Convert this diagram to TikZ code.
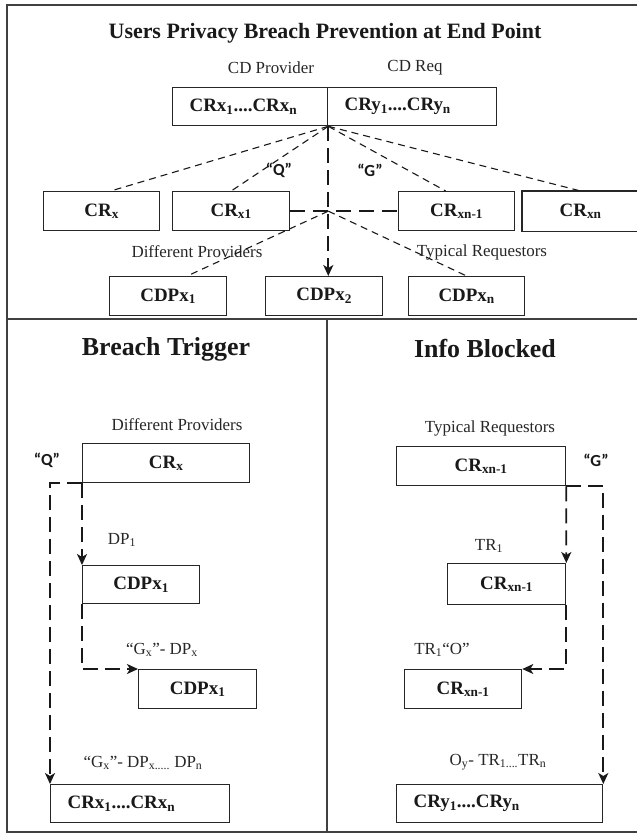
\documentclass[tikz,border=0pt]{standalone}
\usepackage{fontspec}
\setmainfont{Liberation Serif}
\newfontfamily\calib{Carlito}
\usetikzlibrary{arrows.meta}
\newcommand\sbs[1]{\textsubscript{#1}}
\tikzset{
  box/.style={draw=black!85, line width=1.3bp, minimum height=39bp, inner sep=0pt,
    font=\fontsize{19}{21}\selectfont\bfseries, anchor=north west, text=black!90},
  boxl/.style={align=left, inner xsep=17bp},
  boxline/.style={draw=black!85, line width=1.3bp},
  lbl/.style={font=\fontsize{17}{19}\selectfont, inner sep=0pt, text=black!85},
  qlbl/.style={font=\calib\bfseries\fontsize{17}{19}\selectfont, inner sep=0pt, text=black!90},
  fan/.style={line width=1.1bp, draw=black!90, dash pattern=on 7bp off 5bp},
  flow/.style={line width=1.8bp, draw=black!90, dash pattern=on 15bp off 7bp},
  flowthin/.style={line width=1.5bp, draw=black!90, dash pattern=on 15bp off 8bp},
  arr/.style={-{Stealth[length=11bp,width=10bp,inset=3bp]}},
  frame/.style={line width=1.2bp, draw=black!75},
  ttl/.style={font=\fontsize{22}{24}\selectfont\bfseries, inner sep=0pt, text=black!90},
  sttl/.style={font=\fontsize{26}{28}\selectfont\bfseries, inner sep=0pt, text=black!90},
}
\begin{document}
\begin{tikzpicture}[x=1bp,y=-1bp]
\useasboundingbox (0,0) rectangle (637,833);
\fill[white] (0,0) rectangle (637,833);
% frame
\draw[frame] (637,5) -- (7,5) -- (7,832) -- (637,832);
\draw[frame] (7,319) -- (637,319);
\draw[frame] (327,319) -- (327,832);
% ---------- top panel ----------
\node[ttl] (t1) at (325,33) {Users Privacy Breach Prevention at End Point};
\node[lbl] (cdp) at (271,68) {CD Provider};
\node[lbl] (cdr) at (415,68) {CD Req};
\node[box, boxl, text width=121bp, minimum height=38bp] (A) at (172,87) {CRx\sbs{1}....CRx\sbs{n}};
\node[box, boxl, text width=135bp, minimum height=38bp] (B) at (327,87) {CRy\sbs{1}....CRy\sbs{n}};
\coordinate (apex) at (A.south east);
\node[box, minimum width=116bp] (r1) at (43,191) {CR\sbs{x}};
\node[box, minimum width=117bp] (r2) at (172,191) {CR\sbs{x1}};
\node[box, minimum width=116bp] (r3) at (398,191) {CR\sbs{xn-1}};
\node[box, draw=none, minimum width=116bp] (r4) at (522,191) {CR\sbs{xn}};
\draw[boxline] ([xshift=-2bp]r4.north east) -- (r4.north west) -- (r4.south west) -- ([xshift=-2bp]r4.south east);
\node[qlbl] (q1) at (279,170) {“Q”};
\node[qlbl] (g1) at (370,170) {“G”};
\node[lbl] (dp1) at (197,252) {Different Providers};
\node[lbl] (tr1) at (482,252) {Typical Requestors};
\node[box, minimum width=117bp] (c1) at (109,276) {CDPx\sbs{1}};
\node[box, minimum width=117bp] (c2) at (265,276) {CDPx\sbs{2}};
\node[box, minimum width=116bp] (c3) at (408,276) {CDPx\sbs{n}};
\draw[fan] (apex) -- ([xshift=9bp]r1.north);
\draw[fan] (apex) -- (r2.north);
\draw[fan] (apex) -- ([xshift=-11bp]r3.north);
\draw[fan] (apex) -- (r4.north);
\draw[flow, arr] (apex) -- (apex |- c2.north);
\draw[flowthin] (r2.east) -- (r3.west);
\coordinate (cross) at (apex |- r2.east);
\draw[fan] (cross) -- ([xshift=19bp]c1.north);
\draw[fan] (cross) -- (c3.north);
% ---------- lower left ----------
\node[sttl] (bt) at (166,349) {Breach Trigger};
\node[lbl] (dp2) at (177,425) {Different Providers};
\node[box, minimum width=167bp] (L1) at (82,443) {CR\sbs{x}};
\node[qlbl] (q2) at (47,460) {“Q”};
\node[lbl] (dpone) at (122,540) {DP\sbs{1}};
\node[box, minimum width=117bp, minimum height=38bp] (L2) at (82,565) {CDPx\sbs{1}};
\node[lbl] (gx1) at (162,650) {“G\sbs{x}”- DP\sbs{x}};
\node[box, minimum width=118bp] (L3) at (138,669) {CDPx\sbs{1}};
\node[lbl] (gx2) at (143,763) {“G\sbs{x}”- DP\sbs{x.....} DP\sbs{n}};
\node[box, boxl, text width=145bp, minimum height=38bp] (L4) at (50,784) {CRx\sbs{1}....CRx\sbs{n}};
\draw[flow, arr] (L1.south west) -| (L4.north west);
\draw[flow, arr] (L1.south west) -- (L2.north west);
\draw[flow, arr] (L2.south west) |- (L3.north west);
% ---------- lower right ----------
\node[sttl] (ib) at (485,349) {Info Blocked};
\node[lbl] (tr2) at (490,428) {Typical Requestors};
\node[box, minimum width=169bp] (R1) at (396,446) {CR\sbs{xn-1}};
\node[qlbl] (g2) at (596,460) {“G”};
\node[lbl] (trone) at (489,546) {TR\sbs{1}};
\node[box, minimum width=118bp, minimum height=41bp] (R2) at (447,563) {CR\sbs{xn-1}};
\node[lbl] (tro) at (442,650) {TR\sbs{1}“O”};
\node[box, minimum width=117bp] (R3) at (404,669) {CR\sbs{xn-1}};
\node[lbl] (oy) at (498,762) {O\sbs{y}- TR\sbs{1....}TR\sbs{n}};
\node[box, boxl, text width=172bp, minimum height=38bp] (R4) at (396,784) {CRy\sbs{1}....CRy\sbs{n}};
\draw[flow, arr] (R1.south east) -| (R4.north east);
\draw[flow, arr] (R1.south east) -- (R2.north east);
\draw[flow, arr] (R2.south east) |- (R3.north east);
\end{tikzpicture}
\end{document}
